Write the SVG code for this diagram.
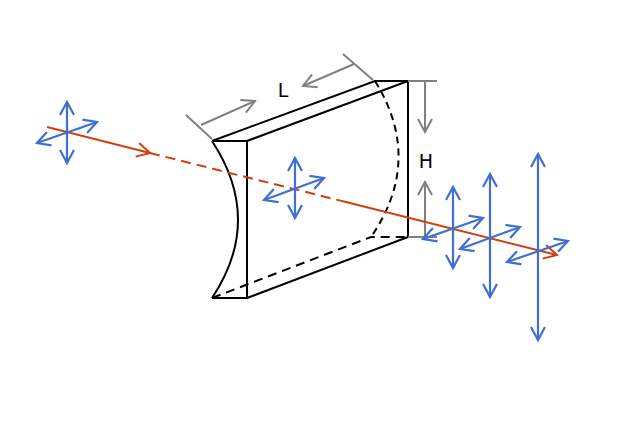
<svg xmlns="http://www.w3.org/2000/svg" width="640" height="427" viewBox="0 0 640 427">
<defs>
<style>
.k{fill:none;stroke:#000;stroke-width:2}
.d{stroke-dasharray:9 6}
.g{fill:none;stroke:#808080;stroke-width:2}
.b{fill:none;stroke:#3f6fd0;stroke-width:2.200}
.r{fill:none;stroke:#d0400f;stroke-width:2}
.t{font-family:"DejaVu Sans",sans-serif;font-size:19px;fill:#000;text-anchor:middle}
</style>
<marker id="ab" viewBox="-15 -8 17 16" markerWidth="17" markerHeight="16" refX="0" refY="0" orient="auto-start-reverse" markerUnits="userSpaceOnUse"><path d="M-13 -7L0 0L-13 7" fill="none" stroke="#3f6fd0" stroke-width="2.200"/></marker>
<marker id="ag" viewBox="-15 -8 17 16" markerWidth="17" markerHeight="16" refX="0" refY="0" orient="auto" markerUnits="userSpaceOnUse"><path d="M-13 -7L0 0L-13 7" fill="none" stroke="#808080" stroke-width="2"/></marker>
<marker id="ar" viewBox="-15 -8 17 16" markerWidth="17" markerHeight="16" refX="0" refY="0" orient="auto" markerUnits="userSpaceOnUse"><path d="M-13 -7L0 0L-13 7" fill="none" stroke="#d0400f" stroke-width="2"/></marker>
</defs>
<rect width="640" height="427" fill="#fff"/>
<g id="lens">
<path class="k" d="M212 141H247V298H212"/>
<path class="k" d="M212 141L375 81H408V237L247 298M247 141L408 81"/>
<path class="k" d="M212 141Q264 220 212 298"/>
<path class="k d" d="M212 298L371 237H408"/>
<path class="k" style="stroke-dasharray:7 5" d="M375 81Q424 160 371 237"/>
</g>
<g id="dimensions">
<path class="g" d="M186 115L212 139M343 54L373 80M408 81H437M408 237H437"/>
<path class="g" marker-end="url(#ag)" d="M201 125L255 101"/>
<path class="g" marker-end="url(#ag)" d="M354 64L303 86"/>
<path class="g" marker-end="url(#ag)" d="M425 81V132"/>
<path class="g" marker-end="url(#ag)" d="M425 237V182"/>
<text class="t" x="283" y="97">L</text>
<text class="t" x="426" y="168">H</text>
</g>
<g id="beam">
<path class="r" marker-end="url(#ar)" d="M47 127L150 153"/>
<path class="r" style="stroke-dasharray:10 6" d="M150 153L345 201.800"/>
<path class="r" marker-end="url(#ar)" d="M345 201.800L557 255"/>
</g>
<g id="polarization">
<path class="b" marker-start="url(#ab)" marker-end="url(#ab)" d="M67 102V163"/>
<path class="b" marker-start="url(#ab)" marker-end="url(#ab)" d="M37 143L97 122"/>
<path class="b" marker-start="url(#ab)" marker-end="url(#ab)" d="M295 158V218"/>
<path class="b" marker-start="url(#ab)" marker-end="url(#ab)" d="M264 200L324 178"/>
<path class="b" marker-start="url(#ab)" marker-end="url(#ab)" d="M453 187V268"/>
<path class="b" marker-start="url(#ab)" marker-end="url(#ab)" d="M423 239L483 218"/>
<path class="b" marker-start="url(#ab)" marker-end="url(#ab)" d="M490 174V297"/>
<path class="b" marker-start="url(#ab)" marker-end="url(#ab)" d="M460 249L520 227"/>
<path class="b" marker-start="url(#ab)" marker-end="url(#ab)" d="M538 154V340"/>
<path class="b" marker-start="url(#ab)" marker-end="url(#ab)" d="M507 262L568 241"/>
</g>
</svg>
